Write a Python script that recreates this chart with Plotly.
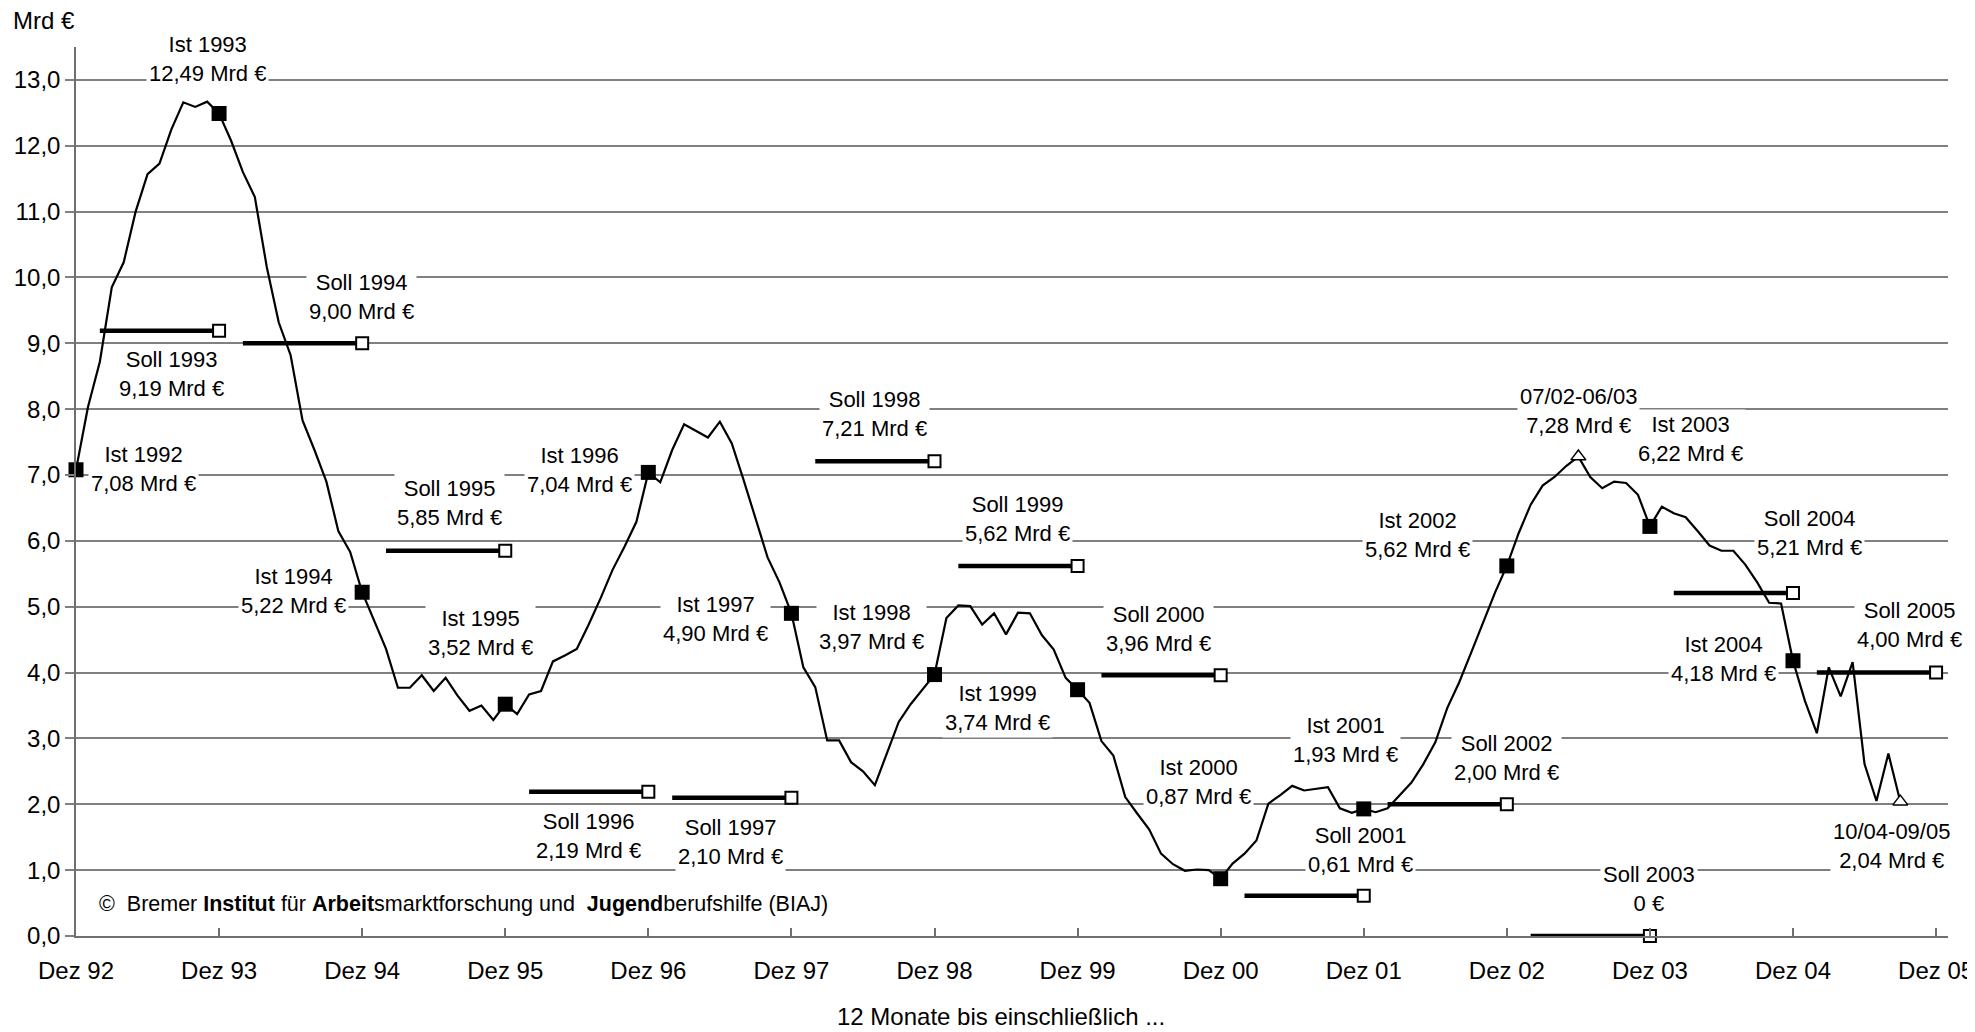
import plotly.graph_objects as go

FONT = "Liberation Sans, Arial, sans-serif"

# ---------------- data ----------------
# monthly 12-month values, month index 0 = Dez 92 ... 153 = Sep 05
ist_monthly = [
    7.08, 8.03, 8.72, 9.85, 10.23, 11.00, 11.57, 11.73, 12.25, 12.66, 12.59, 12.67,
    12.49, 12.08, 11.60, 11.22, 10.16, 9.32, 8.82, 7.83, 7.38, 6.90, 6.15, 5.83,
    5.22, 4.78, 4.36, 3.77, 3.77, 3.96, 3.72, 3.92, 3.65, 3.42, 3.50, 3.28,
    3.52, 3.37, 3.67, 3.72, 4.17, 4.26, 4.36, 4.73, 5.13, 5.56, 5.91, 6.29,
    7.04, 6.89, 7.38, 7.77, 7.67, 7.57, 7.81, 7.48, 6.92, 6.33, 5.75, 5.37,
    4.90, 4.08, 3.78, 2.97, 2.97, 2.64, 2.50, 2.29, 2.76, 3.25, 3.52, 3.75,
    3.97, 4.83, 5.02, 5.01, 4.73, 4.90, 4.58, 4.91, 4.90, 4.57, 4.35, 3.92,
    3.74, 3.54, 2.96, 2.74, 2.11, 1.86, 1.62, 1.25, 1.09, 0.99, 1.01, 1.00,
    0.87, 1.10, 1.25, 1.45, 2.01, 2.14, 2.28, 2.21, 2.23, 2.26, 1.94, 1.87,
    1.93, 1.88, 1.94, 2.14, 2.33, 2.61, 2.94, 3.46, 3.85, 4.30, 4.75, 5.21,
    5.62, 6.12, 6.55, 6.84, 6.97, 7.14, 7.28, 6.97, 6.80, 6.90, 6.88, 6.70,
    6.22, 6.52, 6.42, 6.36, 6.15, 5.93, 5.85, 5.85, 5.64, 5.37, 5.06, 5.05,
    4.18, 3.57, 3.08, 4.08, 3.64, 4.16, 2.61, 2.05, 2.77, 2.04,
]
months = list(range(len(ist_monthly)))

tick_months = [0, 12, 24, 36, 48, 60, 72, 84, 96, 108, 120, 132, 144, 156]
tick_labels = ["Dez 92", "Dez 93", "Dez 94", "Dez 95", "Dez 96", "Dez 97", "Dez 98",
               "Dez 99", "Dez 00", "Dez 01", "Dez 02", "Dez 03", "Dez 04", "Dez 05"]

y_ticks = list(range(0, 14))
y_tick_labels = [f"{v:.1f}".replace(".", ",") for v in y_ticks]

ist_years = [1992, 1993, 1994, 1995, 1996, 1997, 1998, 1999, 2000, 2001, 2002, 2003, 2004]
ist_values = [7.08, 12.49, 5.22, 3.52, 7.04, 4.90, 3.97, 3.74, 0.87, 1.93, 5.62, 6.22, 4.18]
ist_months = [12 * (y - 1992) for y in ist_years]

period_names = ["07/02-06/03", "10/04-09/05"]
period_values = [7.28, 2.04]
period_months = [126, 153]

soll_years = [1993, 1994, 1995, 1996, 1997, 1998, 1999, 2000, 2001, 2002, 2003, 2004, 2005]
soll_values = [9.19, 9.00, 5.85, 2.19, 2.10, 7.21, 5.62, 3.96, 0.61, 2.00, 0.00, 5.21, 4.00]
soll_start = [12 * (y - 1993) + 2 for y in soll_years]
soll_end = [12 * (y - 1993) + 12 for y in soll_years]


def de(v):
    return f"{v:.2f}".replace(".", ",")


# label placements (data coordinates of text centre)
label_pos = {
    "Ist 1992": (5.7, 7.09), "Ist 1993": (11.0, 13.32), "Ist 1994": (18.25, 5.24),
    "Ist 1995": (33.9, 4.60), "Ist 1996": (42.2, 7.07), "Ist 1997": (53.6, 4.82),
    "Ist 1998": (66.7, 4.70), "Ist 1999": (77.3, 3.46), "Ist 2000": (94.1, 2.34),
    "Ist 2001": (106.5, 2.97), "Ist 2002": (112.5, 6.09), "Ist 2003": (135.4, 7.55),
    "Ist 2004": (138.2, 4.21),
    "Soll 1993": (8.0, 8.53), "Soll 1994": (23.95, 9.71), "Soll 1995": (31.35, 6.57),
    "Soll 1996": (43.0, 1.52), "Soll 1997": (54.9, 1.42), "Soll 1998": (66.96, 7.92),
    "Soll 1999": (79.0, 6.34), "Soll 2000": (90.8, 4.66), "Soll 2001": (107.75, 1.30),
    "Soll 2002": (120.0, 2.71), "Soll 2003": (131.9, 0.72), "Soll 2004": (145.4, 6.12),
    "Soll 2005": (153.8, 4.72),
    "07/02-06/03": (126.0, 7.98), "10/04-09/05": (152.3, 1.37),
}

fig = go.Figure()

# main line
fig.add_trace(go.Scatter(x=months, y=ist_monthly, mode="lines",
                         line=dict(color="black", width=2.2), hoverinfo="skip"))

# Soll segments
sx, sy = [], []
for s, e, v in zip(soll_start, soll_end, soll_values):
    sx += [s, e, None]
    sy += [v, v, None]
fig.add_trace(go.Scatter(x=sx, y=sy, mode="lines", line=dict(color="black", width=4.5),
                         cliponaxis=False, hoverinfo="skip"))
fig.add_trace(go.Scatter(x=soll_end, y=soll_values, mode="markers", cliponaxis=False,
                         marker=dict(symbol="square", size=12, color="white",
                                     line=dict(color="black", width=2))))

# Ist markers
fig.add_trace(go.Scatter(x=ist_months, y=ist_values, mode="markers", cliponaxis=False,
                         marker=dict(symbol="square", size=15, color="black",
                                     line=dict(color="black", width=0))))

# period triangles
fig.add_trace(go.Scatter(x=period_months, y=period_values, mode="markers", cliponaxis=False,
                         marker=dict(symbol="triangle-up", size=13, color="white",
                                     line=dict(color="black", width=1.5))))

annotations = []


def add_label(name, value_text):
    x, y = label_pos[name]
    annotations.append(dict(x=x, y=y, xref="x", yref="y", text=f"{name}<br>{value_text}",
                            showarrow=False, font=dict(family=FONT, size=22, color="black"),
                            bgcolor="white", borderpad=2, align="center",
                            xanchor="center", yanchor="middle"))


for yr, v in zip(ist_years, ist_values):
    add_label(f"Ist {yr}", f"{de(v)} Mrd €")
for yr, v in zip(soll_years, soll_values):
    add_label(f"Soll {yr}", "0 €" if v == 0 else f"{de(v)} Mrd €")
for nm, v in zip(period_names, period_values):
    add_label(nm, f"{de(v)} Mrd €")

annotations.append(dict(
    x=1.76, y=0.48, xref="x", yref="y", xanchor="left", yanchor="middle", showarrow=False,
    text="©\u00a0\u00a0Bremer <b>Institut</b> für <b>Arbeit</b>smarktforschung und\u00a0\u00a0<b>Jugend</b>berufshilfe (BIAJ)",
    font=dict(family=FONT, size=21.5, color="black")))

annotations.append(dict(
    x=-0.0347, y=1.03, xref="paper", yref="paper", xanchor="left", yanchor="middle",
    showarrow=False, text="Mrd €", font=dict(family=FONT, size=24, color="black")))

annotations.append(dict(
    x=0.494, y=-0.09, xref="paper", yref="paper", xanchor="center", yanchor="middle",
    showarrow=False, text="12 Monate bis einschließlich ...", borderpad=0,
    font=dict(family=FONT, size=24, color="black")))

# the page body adds an 8px offset, so the figure is 8px smaller in each direction
fig.update_layout(
    width=1967, height=1024,
    margin=dict(l=68, r=27, t=39, b=96, autoexpand=False),
    plot_bgcolor="white", paper_bgcolor="white",
    showlegend=False,
    font=dict(family=FONT, color="black"),
    annotations=annotations,
    xaxis=dict(range=[0, 157], tickvals=tick_months, ticktext=tick_labels, automargin=False,
               showgrid=False, zeroline=False, showline=True, linecolor="#707070", linewidth=1.5,
               ticks="inside", ticklen=8, tickcolor="#707070", tickwidth=1.5,
               tickfont=dict(family=FONT, size=24, color="black"), ticklabelstandoff=12),
    yaxis=dict(range=[0, 13.5], tickvals=y_ticks, ticktext=y_tick_labels, automargin=False,
               showgrid=True, gridcolor="#808080", gridwidth=1.5, zeroline=False,
               showline=True, linecolor="#707070", linewidth=1.5,
               ticks="outside", ticklen=9, tickcolor="#808080", tickwidth=1.5,
               tickfont=dict(family=FONT, size=24, color="black")),
)

fig.write_html("out.html")
